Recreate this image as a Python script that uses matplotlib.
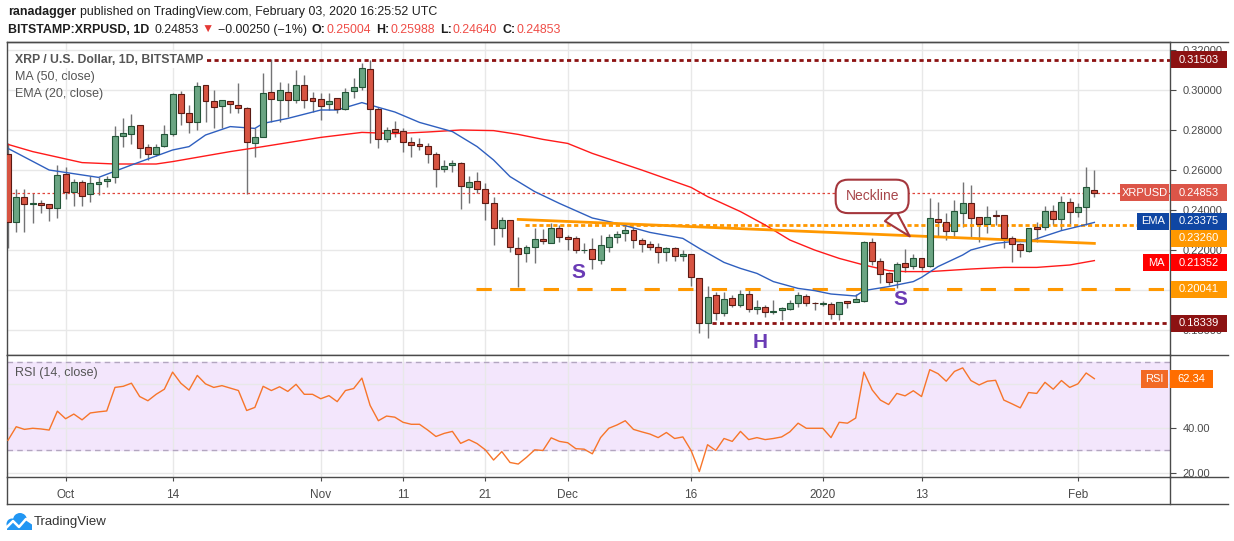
import numpy as np
import pandas as pd
import matplotlib
matplotlib.use("Agg")
import matplotlib.pyplot as plt
import matplotlib.transforms as mtransforms
from matplotlib.patches import Rectangle, Circle
from matplotlib.lines import Line2D

FONT = ["Liberation Sans", "DejaVu Sans"]
plt.rcParams["font.family"] = FONT

# daily candles, 2019-09-24 .. 2020-02-03
start_day = "2019-09-24"
opens = [0.2678, 0.2340, 0.2467, 0.2428, 0.2433, 0.2428, 0.2408, 0.2578, 0.2488, 0.2538,
         0.2478, 0.2528, 0.2545, 0.2563, 0.2768, 0.2780, 0.2823, 0.2713, 0.2678, 0.2722,
         0.2778, 0.2980, 0.2883, 0.2838, 0.3025, 0.2945, 0.2922, 0.2945, 0.2925, 0.2908,
         0.2733, 0.2767, 0.2988, 0.2950, 0.2992, 0.2950, 0.3025, 0.2958, 0.2953, 0.2928,
         0.2958, 0.2903, 0.2997, 0.3013, 0.3105, 0.2903, 0.2753, 0.2803, 0.2793, 0.2742,
         0.2730, 0.2720, 0.2678, 0.2603, 0.2623, 0.2633, 0.2513, 0.2543, 0.2503, 0.2433,
         0.2308, 0.2350, 0.2210, 0.2183, 0.2217, 0.2253, 0.2233, 0.2308, 0.2265, 0.2258,
         0.2198, 0.2203, 0.2150, 0.2217, 0.2263, 0.2283, 0.2298, 0.2248, 0.2228, 0.2213,
         0.2188, 0.2210, 0.2168, 0.2178, 0.2058, 0.1837, 0.1973, 0.1883, 0.1958, 0.1923,
         0.1978, 0.1905, 0.1913, 0.1888, 0.1900, 0.1903, 0.1933, 0.1968, 0.1935, 0.1930,
         0.1928, 0.1878, 0.1943, 0.1940, 0.1947, 0.2238, 0.2147, 0.2083, 0.2045, 0.2133,
         0.2122, 0.2158, 0.2120, 0.2353, 0.2342, 0.2295, 0.2383, 0.2433, 0.2363, 0.2328,
         0.2375, 0.2375, 0.2258, 0.2228, 0.2195, 0.2313, 0.2313, 0.2397, 0.2353, 0.2438,
         0.2392, 0.2417, 0.25004]
highs = [0.2735, 0.2503, 0.2503, 0.2487, 0.2450, 0.2430, 0.2625, 0.2613, 0.2555, 0.2550,
         0.2572, 0.2567, 0.2570, 0.2820, 0.2858, 0.2878, 0.2823, 0.2728, 0.2728, 0.2825,
         0.2987, 0.2995, 0.2925, 0.3038, 0.3025, 0.3000, 0.2950, 0.2945, 0.3037, 0.2917,
         0.2808, 0.3087, 0.3153, 0.3042, 0.3033, 0.3100, 0.3075, 0.2992, 0.2983, 0.2987,
         0.2958, 0.3012, 0.3058, 0.3133, 0.3150, 0.2917, 0.2817, 0.2845, 0.2808, 0.2767,
         0.2758, 0.2733, 0.2692, 0.2650, 0.2650, 0.2642, 0.2570, 0.2592, 0.2533, 0.2463,
         0.2363, 0.2350, 0.2267, 0.2225, 0.2312, 0.2305, 0.2333, 0.2325, 0.2275, 0.2272,
         0.2233, 0.2262, 0.2275, 0.2280, 0.2293, 0.2333, 0.2317, 0.2262, 0.2245, 0.2237,
         0.2217, 0.2217, 0.2200, 0.2178, 0.2058, 0.2020, 0.1992, 0.1992, 0.1975, 0.2000,
         0.2000, 0.1950, 0.1925, 0.1950, 0.1913, 0.1950, 0.1992, 0.1980, 0.1942, 0.1947,
         0.1942, 0.1942, 0.1947, 0.1980, 0.2245, 0.2262, 0.2158, 0.2092, 0.2142, 0.2205,
         0.2178, 0.2158, 0.2458, 0.2442, 0.2383, 0.2450, 0.2542, 0.2525, 0.2367, 0.2420,
         0.2400, 0.2375, 0.2270, 0.2233, 0.2308, 0.2342, 0.2420, 0.2425, 0.2470, 0.2458,
         0.2437, 0.2617, 0.25988]
lows = [0.2210, 0.2292, 0.2292, 0.2337, 0.2387, 0.2347, 0.2358, 0.2453, 0.2422, 0.2422,
        0.2442, 0.2475, 0.2513, 0.2537, 0.2713, 0.2730, 0.2658, 0.2650, 0.2670, 0.2717,
        0.2770, 0.2825, 0.2787, 0.2800, 0.2842, 0.2812, 0.2812, 0.2883, 0.2883, 0.2480,
        0.2667, 0.2767, 0.2842, 0.2842, 0.2867, 0.2933, 0.2908, 0.2892, 0.2850, 0.2900,
        0.2883, 0.2900, 0.2958, 0.3000, 0.2737, 0.2708, 0.2742, 0.2767, 0.2692, 0.2667,
        0.2700, 0.2633, 0.2517, 0.2592, 0.2592, 0.2403, 0.2433, 0.2483, 0.2350, 0.2225,
        0.2267, 0.2192, 0.2013, 0.2142, 0.2133, 0.2230, 0.2233, 0.2242, 0.2200, 0.2183,
        0.2183, 0.2103, 0.2128, 0.2192, 0.2237, 0.2247, 0.2212, 0.2192, 0.2200, 0.2137,
        0.2147, 0.2147, 0.2147, 0.2022, 0.1787, 0.1758, 0.1850, 0.1870, 0.1917, 0.1913,
        0.1892, 0.1880, 0.1867, 0.1880, 0.1850, 0.1900, 0.1913, 0.1920, 0.1900, 0.1920,
        0.1855, 0.1850, 0.1908, 0.1938, 0.1942, 0.2125, 0.2033, 0.2025, 0.2008, 0.2092,
        0.2105, 0.2100, 0.2117, 0.2267, 0.2250, 0.2258, 0.2317, 0.2267, 0.2242, 0.2287,
        0.2325, 0.2208, 0.2138, 0.2167, 0.2192, 0.2242, 0.2300, 0.2325, 0.2300, 0.2330,
        0.2367, 0.2325, 0.24640]
closes = [0.2342, 0.2467, 0.2428, 0.2433, 0.2423, 0.2408, 0.2573, 0.2488, 0.2538, 0.2472,
          0.2533, 0.2538, 0.2555, 0.2768, 0.2783, 0.2818, 0.2712, 0.2678, 0.2717, 0.2778,
          0.2980, 0.2883, 0.2838, 0.3020, 0.2945, 0.2917, 0.2950, 0.2928, 0.2908, 0.2742,
          0.2767, 0.2987, 0.2953, 0.3000, 0.2950, 0.3025, 0.2950, 0.2947, 0.2922, 0.2945,
          0.2903, 0.2992, 0.3013, 0.3108, 0.2903, 0.2753, 0.2800, 0.2792, 0.2742, 0.2723,
          0.2718, 0.2678, 0.2603, 0.2620, 0.2633, 0.2518, 0.2538, 0.2503, 0.2433, 0.2308,
          0.2350, 0.2213, 0.2178, 0.2217, 0.2253, 0.2243, 0.2308, 0.2263, 0.2253, 0.2200,
          0.2200, 0.2153, 0.2223, 0.2263, 0.2278, 0.2298, 0.2248, 0.2228, 0.2213, 0.2188,
          0.2210, 0.2168, 0.2178, 0.2063, 0.1833, 0.1963, 0.1887, 0.1953, 0.1923, 0.1978,
          0.1903, 0.1913, 0.1888, 0.1893, 0.1910, 0.1933, 0.1973, 0.1933, 0.1933, 0.1937,
          0.1878, 0.1938, 0.1937, 0.1953, 0.2238, 0.2147, 0.2080, 0.2042, 0.2128, 0.2117,
          0.2158, 0.2117, 0.2358, 0.2338, 0.2295, 0.2397, 0.2433, 0.2358, 0.2328, 0.2367,
          0.2372, 0.2258, 0.2228, 0.2198, 0.2308, 0.2307, 0.2397, 0.2353, 0.2438, 0.2392,
          0.2413, 0.2513, 0.24853]

# moving averages (candle number, value)
ema_n = [1, 6, 12, 16, 21, 23, 25, 28, 31, 32, 35, 39, 41, 44, 45, 48, 51, 55, 58, 60,
         62, 65, 68, 72, 75, 79, 83, 85, 88, 90, 92, 94, 97, 99, 101, 104, 105, 108, 111, 112,
         114, 117, 118, 121, 123, 125, 127, 129, 131, 133]
ema_v = [0.2708, 0.2600, 0.2563, 0.2625, 0.2700, 0.2717, 0.2775, 0.2817, 0.2808, 0.2833,
         0.2858, 0.2900, 0.2900, 0.2937, 0.2925, 0.2890, 0.2838, 0.2792, 0.2717, 0.2650,
         0.2567, 0.2492, 0.2433, 0.2360, 0.2333, 0.2288, 0.2258, 0.2208, 0.2138, 0.2108,
         0.2083, 0.2042, 0.2008, 0.1997, 0.1980, 0.1970, 0.1997, 0.2017, 0.2042, 0.2063,
         0.2117, 0.2175, 0.2200, 0.2233, 0.2242, 0.2242, 0.2270, 0.2297, 0.2317, 0.2338]
ma_n = [1, 4, 10, 14, 19, 21, 28, 32, 39, 44, 48, 52, 56, 60, 63, 66, 69, 72, 78, 84,
        86, 90, 93, 96, 99, 102, 105, 108, 110, 113, 118, 122, 126, 130, 133]
ma_v = [0.2728, 0.2692, 0.2637, 0.2630, 0.2630, 0.2642, 0.2692, 0.2717, 0.2763, 0.2788,
        0.2782, 0.2790, 0.2800, 0.2797, 0.2778, 0.2753, 0.2733, 0.2683, 0.2600, 0.2513,
        0.2467, 0.2392, 0.2325, 0.2250, 0.2200, 0.2158, 0.2125, 0.2097, 0.2092, 0.2092,
        0.2105, 0.2113, 0.2113, 0.2125, 0.2147]

rsi = [34.6, 40.7, 39.5, 40.0, 39.7, 39.2, 47.7, 44.3, 46.4, 43.8,
       46.9, 47.4, 47.8, 58.4, 58.9, 60.3, 54.3, 52.4, 55.3, 57.6,
       65.3, 60.3, 57.2, 63.8, 60.0, 58.4, 59.2, 58.1, 57.0, 48.0,
       49.4, 58.9, 57.0, 58.7, 56.6, 59.8, 55.3, 55.3, 53.3, 54.7,
       52.0, 57.0, 57.9, 62.6, 50.3, 43.4, 45.5, 45.0, 42.7, 41.8,
       41.8, 39.2, 36.3, 37.7, 38.6, 33.2, 34.9, 33.1, 30.3, 25.7,
       29.5, 24.6, 23.9, 26.9, 30.3, 30.0, 35.7, 34.1, 33.5, 30.8,
       30.6, 28.5, 35.8, 40.0, 41.5, 43.4, 39.5, 38.4, 37.4, 35.8,
       38.1, 35.4, 36.1, 30.0, 20.5, 32.6, 30.0, 35.4, 34.1, 38.6,
       34.9, 35.8, 34.9, 35.4, 36.1, 38.4, 42.3, 40.0, 40.0, 40.0,
       35.8, 42.7, 42.3, 44.6, 65.3, 57.3, 52.7, 50.7, 55.7, 54.6,
       56.9, 54.3, 66.4, 64.6, 61.2, 65.6, 67.2, 61.5, 59.5, 61.2,
       61.6, 52.7, 51.0, 49.2, 56.1, 55.7, 60.7, 57.6, 61.5, 58.4,
       60.0, 64.9, 62.34]

tick_dates = ["2019-10-01", "2019-10-14", "2019-11-01", "2019-11-11", "2019-11-21",
              "2019-12-01", "2019-12-16", "2020-01-01", "2020-01-13", "2020-02-01"]
tick_names = ["Oct", "14", "Nov", "11", "21", "Dec", "16", "2020", "13", "Feb"]

# levels drawn on the chart
top_level = 0.31503
bottom_level = 0.18339
mid_level = 0.23260
support_level = 0.20041
neck_start = (62, 0.2353)
neck_end = (132, 0.2233)

W, H = 1234, 541
fig = plt.figure(figsize=(W / 100, H / 100), dpi=100)
fig.patch.set_facecolor("white")


def fx(px):
    return px / W


def fy(py):
    return 1 - py / H


FRAME = "#4a4a4a"
GRID = "#e8e8e8"
TXT = "#4a4a4a"

ax = fig.add_axes([fx(7), fy(355), fx(1170) - fx(7), fy(42) - fy(355)])
axr = fig.add_axes([fx(7), fy(477), fx(1170) - fx(7), fy(355) - fy(477)])

dates = pd.date_range(start_day, periods=len(closes), freq="D")
x = np.arange(len(closes))
o = np.array(opens)
h = np.array(highs)
l = np.array(lows)
c = np.array(closes)

xlim = (-0.12, 141.19)
ax.set_xlim(*xlim)
axr.set_xlim(*xlim)
ax.set_ylim(0.1675, 0.324)
axr.set_ylim(18.06, 73.0)

tick_pos = [int(np.where(dates == pd.Timestamp(d))[0][0]) for d in tick_dates]

for a in (ax, axr):
    for s in a.spines.values():
        s.set_color(FRAME)
        s.set_linewidth(1)
    a.set_xticks(tick_pos)
    a.grid(True, color=GRID, lw=1)
    a.set_axisbelow(True)
    a.yaxis.tick_right()
    a.tick_params(axis="y", length=4, color=FRAME, labelcolor=TXT, labelsize=8, pad=5)

ax.tick_params(axis="x", length=0, labelbottom=False)
axr.set_xticklabels(tick_names)
axr.tick_params(axis="x", length=3, color=FRAME, labelcolor=TXT, labelsize=8.5, pad=6)

price_ticks = np.arange(0.18, 0.3201, 0.02)
ax.set_yticks(price_ticks)
# 0.20000 sits fully behind the 0.20041 tag, as on the original
ax.set_yticklabels(["" if abs(v - 0.20) < 1e-6 else "%.5f" % v for v in price_ticks])
axr.set_yticks([20, 40, 60])
axr.set_yticklabels(["20.00", "40.00", "60.00"])

# candles
up = c >= o
fill = np.where(up, "#6ba583", "#d75442")
edge = np.where(up, "#225437", "#5b1a13")
ax.vlines(x, l, h, color="#737375", lw=1, zorder=2)
body = np.maximum(np.abs(c - o), 0.0003)
ax.bar(x, body, bottom=np.minimum(o, c), width=0.72, color=fill, edgecolor=edge,
       linewidth=0.8, zorder=3)

# moving averages
ax.plot(np.array(ma_n) - 1, ma_v, color="#ff1a1a", lw=1, zorder=2.5)
ax.plot(np.array(ema_n) - 1, ema_v, color="#2f5fbf", lw=1, zorder=2.5)

# levels
ax.plot([23.2, xlim[1]], [top_level] * 2, color="#8c1212", lw=2, ls=(0, (1.5, 1.2)), zorder=2)
ax.plot([85.5, xlim[1]], [bottom_level] * 2, color="#8c1212", lw=2, ls=(0, (1.5, 1.2)), zorder=2)
ax.plot([62.8, xlim[1]], [mid_level] * 2, color="#ff9800", lw=2, ls=(0, (1.5, 1.0)), zorder=2)
ax.plot([56.9, xlim[1]], [support_level] * 2, color="#ff9800", lw=2.2, ls=(0, (5, 6)), zorder=2)
ax.plot([neck_start[0], neck_end[0]], [neck_start[1], neck_end[1]], color="#ff9800", lw=2, zorder=2.6)
ax.plot([xlim[0], xlim[1]], [c[-1]] * 2, color="#e0453a", lw=0.9, ls=(0, (2, 2)), zorder=2)

# pattern labels
for xi, yv, s in [(69.3, 0.2088, "S"), (108.4, 0.1950, "S"), (91.4, 0.1737, "H")]:
    ax.text(xi, yv, s, color="#6a3bb5", fontsize=15, fontweight="bold", ha="center", va="center", zorder=4)

ax.annotate("Neckline", xy=(109.8, 0.2258), xytext=(105.0, 0.2468), ha="center", va="center",
            fontsize=10, color="#a8474c", zorder=6,
            bbox=dict(boxstyle="round,pad=0.7,rounding_size=0.9", fc="white", ec="#a5373d", lw=1.5),
            arrowprops=dict(arrowstyle="wedge,tail_width=1.1,shrink_factor=0.5", fc="white",
                            ec="#a5373d", lw=1.5))

# legends inside panes
ax.text(8 / 1163, 1 - 18 / 313, "XRP / U.S. Dollar, 1D, BITSTAMP", transform=ax.transAxes,
        color="#555555", fontsize=8.8, fontweight="bold", va="center", ha="left", zorder=6,
        bbox=dict(boxstyle="square,pad=0.15", fc="white", ec="none"))
ax.text(8 / 1163, 1 - 35 / 313, "MA (50, close)", transform=ax.transAxes, color="#555555",
        fontsize=9, va="center", ha="left", zorder=6)
ax.text(8 / 1163, 1 - 52 / 313, "EMA (20, close)", transform=ax.transAxes, color="#555555",
        fontsize=9, va="center", ha="left", zorder=6)

# rsi pane
axr.axhspan(30, 70, color="#f3e6fc", zorder=0)
for lv in (30, 70):
    axr.axhline(lv, color="#b3a6c0", lw=1, ls=(0, (4, 3)), zorder=1)
axr.plot(x, rsi, color="#f7752a", lw=1, zorder=3)
axr.text(8 / 1163, 1 - 18 / 122, "RSI (14, close)", transform=axr.transAxes, color="#555555",
         fontsize=9, va="center", ha="left", zorder=6)


def tag(a, yval, text, color, x0px, x1px, hpx=17, size=8):
    trans = mtransforms.blended_transform_factory(a.transAxes, a.transData)
    lo, hi = a.get_ylim()
    per_px = (hi - lo) / (a.get_position().height * H)
    x0 = (x0px - 7) / 1163
    x1 = (x1px - 7) / 1163
    a.add_patch(Rectangle((x0, yval - hpx / 2 * per_px), x1 - x0, hpx * per_px, transform=trans,
                          fc=color, ec="none", clip_on=False, zorder=7))
    a.text((x0 + x1) / 2, yval, text, transform=trans, color="white", fontsize=size, ha="center",
           va="center", clip_on=False, zorder=8)


tag(ax, top_level, "0.31503", "#8c1212", 1171, 1227)
tag(ax, c[-1], "XRPUSD", "#dc5548", 1120, 1169)
tag(ax, c[-1], "0.24853", "#dc5548", 1171, 1227)
tag(ax, 0.2343, "EMA", "#0f46a3", 1137, 1169)
tag(ax, 0.2343, "0.23375", "#0f46a3", 1171, 1227)
tag(ax, 0.2258, "0.23260", "#ff9800", 1171, 1227)
tag(ax, 0.21352, "MA", "#ff0000", 1143, 1169)
tag(ax, 0.21352, "0.21352", "#ff0000", 1171, 1227)
tag(ax, support_level, "0.20041", "#ff9800", 1171, 1227)
tag(ax, bottom_level, "0.18339", "#8c1212", 1171, 1227)
tag(axr, rsi[-1], "RSI", "#f26a25", 1141, 1168, hpx=18)
tag(axr, rsi[-1], "62.34", "#ff6d00", 1170, 1213, hpx=18)

# outer frame pieces
for (xa, ya, xb, yb) in [(7, 42, 1228, 42), (1170, 355, 1228, 355), (1170, 477, 1228, 477),
                         (7, 504, 1228, 504), (7, 477, 7, 504), (1170, 477, 1170, 504)]:
    fig.add_artist(Line2D([fx(xa), fx(xb)], [fy(ya), fy(yb)], color=FRAME, lw=1))

# header rows
renderer = fig.canvas.get_renderer()


def row(xpx, ypx, pieces, size):
    for s, color, weight, gap in pieces:
        t = fig.text(fx(xpx), fy(ypx), s, color=color, fontsize=size, fontweight=weight,
                     ha="left", va="center")
        bb = t.get_window_extent(renderer)
        xpx = bb.x1 + gap


DARK = "#1e1e1e"
RED = "#ef4e48"
row(8, 12, [("ranadagger", DARK, "bold", 4),
            ("published on TradingView.com, February 03, 2020 16:25:52 UTC", DARK, "normal", 0)], 8.9)
row(8, 30, [("BITSTAMP:XRPUSD, 1D", DARK, "bold", 5), ("0.24853", DARK, "normal", 3),
            ("\u25bc", "#e53935", "normal", 4), ("\u22120.00250 (\u22121%)", DARK, "normal", 5),
            ("O:", DARK, "bold", 1), ("0.25004", RED, "normal", 5),
            ("H:", DARK, "bold", 1), ("0.25988", RED, "normal", 5),
            ("L:", DARK, "bold", 1), ("0.24640", RED, "normal", 5),
            ("C:", DARK, "bold", 1), ("0.24853", RED, "normal", 0)], 8.9)

# TradingView logo, drawn in pixel units (1/100 inch)
px_t = fig.dpi_scale_trans


def pxy(xp, yp):
    return (xp / 100, (H - yp) / 100)


logo_blue = "#2196f3"
for cx, cy, r in [(12, 524, 5.5), (20, 520, 7), (27, 524.5, 5)]:
    fig.add_artist(Circle(pxy(cx, cy), r / 100, transform=px_t, fc=logo_blue, ec="none"))
fig.add_artist(Rectangle(pxy(7, 530), 25 / 100, 6 / 100, transform=px_t, fc=logo_blue, ec="none"))
zig = [pxy(6, 528), pxy(13, 521), pxy(19, 527), pxy(26, 519), pxy(32, 523)]
fig.add_artist(Line2D([p[0] for p in zig], [p[1] for p in zig], transform=px_t, color="white", lw=1.8))
fig.text(fx(34), fy(522), "TradingView", color="#333333", fontsize=9.5, ha="left", va="center")

fig.savefig("out.png", dpi=100)
